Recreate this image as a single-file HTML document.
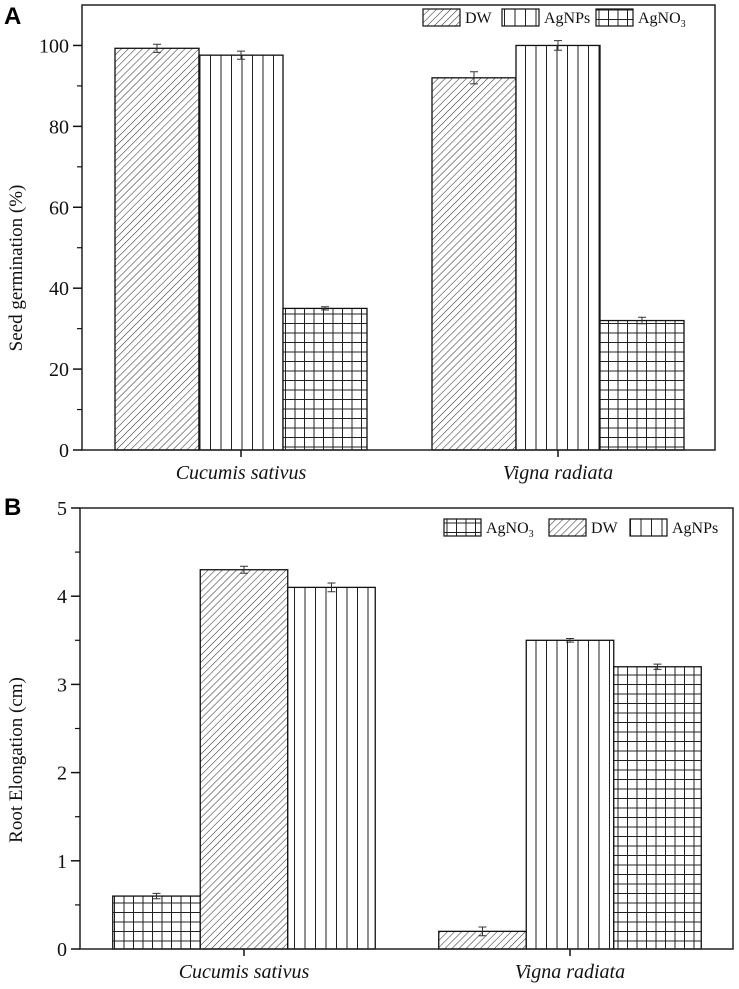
<!DOCTYPE html>
<html><head><meta charset="utf-8"><style>
html,body{margin:0;padding:0;background:#fff}
svg{display:block;font-family:"Liberation Serif",serif}
</style></head><body>
<svg id="s" width="739" height="989" viewBox="0 0 739 989">
<defs>
<pattern id="pdiag" patternUnits="userSpaceOnUse" width="5" height="5" patternTransform="rotate(45)"><rect width="5" height="5" fill="#fff"/><line x1="0" y1="0" x2="0" y2="5" stroke="#333" stroke-width="1.1"/></pattern>
<pattern id="pvert" patternUnits="userSpaceOnUse" width="10.5" height="10"><rect width="10.5" height="10" fill="#fff"/><line x1="0.5" y1="0" x2="0.5" y2="10" stroke="#222" stroke-width="1"/></pattern>
<pattern id="pgrid" patternUnits="userSpaceOnUse" width="9.5" height="9.5"><rect width="9.5" height="9.5" fill="#fff"/><line x1="0.5" y1="0" x2="0.5" y2="9.5" stroke="#222" stroke-width="1"/><line x1="0" y1="0.5" x2="9.5" y2="0.5" stroke="#222" stroke-width="1"/></pattern>
</defs>
</svg>
<script>
// Panel A data
const catsA = ["Cucumis sativus","Vigna radiata"];
const seriesA = ["DW","AgNPs","AgNO3"];
const valsA = [[99.3,97.6,35],[92,100,32]];
const errA = [[1,1,0.4],[1.5,1.2,0.8]];
const patA = [["pdiag","pvert","pgrid"],["pdiag","pvert","pgrid"]];
const ticksA = [0,20,40,60,80,100];
// Panel B data
const catsB = ["Cucumis sativus","Vigna radiata"];
const seriesB = ["AgNO3","DW","AgNPs"];
const valsB = [[0.6,4.3,4.1],[0.2,3.5,3.2]];
const errB = [[0.03,0.04,0.05],[0.05,0.02,0.03]];
const patB = [["pgrid","pdiag","pvert"],["pdiag","pvert","pgrid"]];
const ticksB = [0,1,2,3,4,5];

const NS="http://www.w3.org/2000/svg";
const svg=document.getElementById('s');
function mk(tag,attrs,parent,text){const e=document.createElementNS(NS,tag);for(const k in attrs)e.setAttribute(k,attrs[k]);if(text!==undefined)e.textContent=text;(parent||svg).appendChild(e);return e;}

function panel(cfg){
  const g=mk('g',{});
  
  
  const y=v=>cfg.y0-(v-0)/(cfg.ymax)*(cfg.y0-cfg.top);
  cfg.cats.forEach((c,ci)=>{
    const cx=cfg.centers[ci];
    cfg.vals[ci].forEach((v,si)=>{
      const x=cx-1.5*cfg.bw+si*cfg.bw;
      const r=mk('rect',{x:x,y:y(v),width:cfg.bw,height:cfg.y0-y(v),fill:'url(#'+cfg.pat[ci][si]+')',stroke:'#111','stroke-width':1.3},g);
      
      
      const e=cfg.err[ci][si], ex=x+cfg.bw/2;
      const eb=mk('path',{d:`M${ex},${y(v+e)}V${y(v-e)}M${ex-4},${y(v+e)}H${ex+4}M${ex-4},${y(v-e)}H${ex+4}`,stroke:'#333','stroke-width':1,fill:'none'},g);
      
      
    });
    mk('line',{x1:cx,y1:cfg.y0,x2:cx,y2:cfg.y0+7,stroke:'#111','stroke-width':1.5},g);
    const t=mk('text',{x:cx,y:cfg.y0+29,'text-anchor':'middle','font-size':20,'font-style':'italic',fill:'#111'},g,c);
    
    
  });
  const f=mk('rect',{x:cfg.left,y:cfg.top,width:cfg.right-cfg.left,height:cfg.y0-cfg.top,fill:'none',stroke:'#222','stroke-width':1.5},g);
  
  
  cfg.ticks.forEach((tv,i)=>{
    mk('line',{x1:cfg.left-9,y1:y(tv),x2:cfg.left,y2:y(tv),stroke:'#111','stroke-width':1.5},g);
    const tl=mk('text',{x:cfg.left-13,y:y(tv)+7,'text-anchor':'end','font-size':20,fill:'#111'},g,String(tv));
    
    
    if(i<cfg.ticks.length-1){const mv=(tv+cfg.ticks[i+1])/2;mk('line',{x1:cfg.left-5,y1:y(mv),x2:cfg.left,y2:y(mv),stroke:'#111','stroke-width':1.2},g);}
  });
  if(cfg.ymax>cfg.ticks[cfg.ticks.length-1]){const mv=cfg.ticks[cfg.ticks.length-1]+(cfg.ticks[1]-cfg.ticks[0])/2; if(mv<cfg.ymax) mk('line',{x1:cfg.left-5,y1:y(mv),x2:cfg.left,y2:y(mv),stroke:'#111','stroke-width':1.2},g);}
  const yt=mk('text',{x:0,y:0,'text-anchor':'middle','font-size':19,fill:'#111',transform:`translate(${cfg.ytx},${cfg.yty}) rotate(-90)`},g,cfg.ytitle);
  
  
  const pl=mk('text',{x:4,y:cfg.letterY,'font-size':24,'font-weight':'bold','font-family':'Liberation Sans, sans-serif',fill:'#000'},g,cfg.letter);
  
  
  cfg.legend.forEach(L=>{
    const lg=mk('g',{},g);
    
    
    mk('rect',{x:L.x,y:cfg.legY-8,width:37,height:17,fill:'url(#'+L.p+')',stroke:'#111','stroke-width':1.2},lg);
    const tx=mk('text',{x:L.x+42,y:cfg.legY+6,'font-size':16,fill:'#111'},lg);
    if(L.t==='AgNO3'){tx.textContent='AgNO';mk('tspan',{'font-size':10,dy:4},tx,'3');}else tx.textContent=L.t;
  });
}
panel({name:'panel-a-seed-germination',cats:catsA,series:seriesA,vals:valsA,err:errA,pat:patA,ticks:ticksA,
  ymax:110,y0:450,top:5,left:82,right:715,centers:[241,558],bw:84,ytitle:'Seed germination (%)',ytx:22,yty:268,
  letter:'A',letterY:24,legY:17,legend:[{x:423,p:'pdiag',t:'DW'},{x:502,p:'pvert',t:'AgNPs'},{x:596,p:'pgrid',t:'AgNO3'}]});
panel({name:'panel-b-root-elongation',cats:catsB,series:seriesB,vals:valsB,err:errB,pat:patB,ticks:ticksB,
  ymax:5,y0:949,top:508,left:80,right:733,centers:[244,570],bw:87.5,ytitle:'Root Elongation (cm)',ytx:22,yty:760,
  letter:'B',letterY:515,legY:527,legend:[{x:444,p:'pgrid',t:'AgNO3'},{x:549,p:'pdiag',t:'DW'},{x:630,p:'pvert',t:'AgNPs'}]});
</script>
</body></html>
